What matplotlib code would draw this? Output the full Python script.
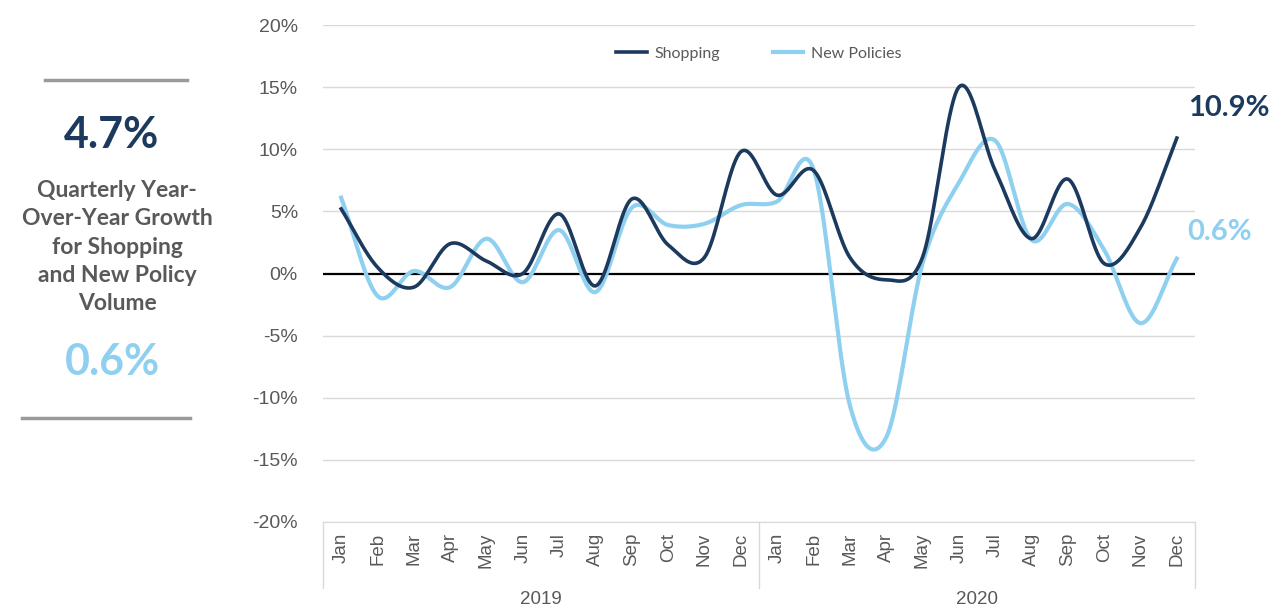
import matplotlib
matplotlib.use("Agg")
import matplotlib.pyplot as plt
import numpy as np

# data (monthly YoY growth, %)
months = ["Jan", "Feb", "Mar", "Apr", "May", "Jun", "Jul", "Aug", "Sep", "Oct", "Nov", "Dec"]
years = ["2019", "2020"]
shopping = [5.2, 0.5, -1.1, 2.4, 1.0, 0.0, 4.8, -1.0, 6.0, 2.3, 1.3, 9.8,
            6.3, 8.3, 1.3, -0.5, 1.3, 15.0, 8.3, 2.8, 7.6, 0.8, 3.7, 10.9]
new_policies = [6.1, -1.8, 0.2, -1.1, 2.8, -0.7, 3.5, -1.5, 5.3, 3.9, 4.0, 5.5,
                5.8, 8.4, -10.6, -13.2, 0.8, 7.3, 10.7, 2.7, 5.6, 1.9, -4.0, 1.2]
yticks = [-20, -15, -10, -5, 0, 5, 10, 15, 20]
shop_end_label = "10.9%"
pol_end_label = "0.6%"
quarter_shop = "4.7%"
quarter_pol = "0.6%"

DARK = "#1c3a5e"
LIGHT = "#8fd0f0"
GREY = "#595959"


def smooth(xs, ys, n=20):
    # catmull-rom through the points, like excel's smoothed line
    xs = np.asarray(xs, float)
    ys = np.asarray(ys, float)
    px = np.concatenate([[2 * xs[0] - xs[1]], xs, [2 * xs[-1] - xs[-2]]])
    py = np.concatenate([[2 * ys[0] - ys[1]], ys, [2 * ys[-1] - ys[-2]]])
    ox, oy = [], []
    t = np.linspace(0, 1, n, endpoint=False)
    for i in range(1, len(px) - 2):
        for p, out in ((px, ox), (py, oy)):
            p0, p1, p2, p3 = p[i - 1], p[i], p[i + 1], p[i + 2]
            c = 0.5 * ((2 * p1) + (-p0 + p2) * t + (2 * p0 - 5 * p1 + 4 * p2 - p3) * t ** 2
                       + (-p0 + 3 * p1 - 3 * p2 + p3) * t ** 3)
            out.extend(c)
    ox.append(xs[-1])
    oy.append(ys[-1])
    return np.array(ox), np.array(oy)


fig = plt.figure(figsize=(12.86, 6.09), dpi=100)
ax = fig.add_axes([323 / 1286, 1 - 522 / 609, (1195 - 323) / 1286, (522 - 25) / 609])

x = np.arange(len(shopping))
for yv in yticks:
    if yv != 0:
        ax.axhline(yv, color="#d9d9d9", lw=1, zorder=1)
ax.axhline(0, color="black", lw=1.6, zorder=2)

sx, sy = smooth(x, new_policies)
ax.plot(sx, sy, color=LIGHT, lw=3, zorder=3, label="New Policies")
sx, sy = smooth(x, shopping)
ax.plot(sx, sy, color=DARK, lw=2.6, zorder=4, label="Shopping")

ax.set_xlim(-0.5, len(x) - 0.5)
ax.set_ylim(-20, 20)
ax.set_yticks(yticks)
ax.set_yticklabels([f"{v}%" for v in yticks], fontsize=14, color=GREY, family="Liberation Sans")
ax.tick_params(axis="y", length=0, pad=18)
ax.set_xticks(x)
ax.set_xticklabels(months * 2, rotation=90, fontsize=13.5, color=GREY, family="Liberation Sans")
ax.tick_params(axis="x", length=0, pad=8)
for s in ["top", "right", "left"]:
    ax.spines[s].set_visible(False)
ax.spines["bottom"].set_color("#d9d9d9")

# category separators below the axis
for xv in [-0.5, 11.5, 23.5]:
    ax.plot([xv, xv], [-20, -25.3], color="#d9d9d9", lw=1, clip_on=False)
for i, yr in enumerate(years):
    ax.text(5.5 + 12 * i, -26.2, yr, ha="center", va="center", fontsize=13.5, color=GREY,
            family="Liberation Sans")

h, l = ax.get_legend_handles_labels()
ax.legend(h[::-1], l[::-1], loc="upper center", bbox_to_anchor=(0.5, 0.985), ncol=2, frameon=False,
          labelcolor=GREY, handlelength=1.9, handletextpad=0.5, columnspacing=3.3,
          prop={"family": "Lato", "size": 11.5})

ax.text(23.3, 13.3, shop_end_label, fontsize=21, fontweight="bold", color=DARK,
        family="Lato", va="center", ha="left", clip_on=False)
ax.text(23.3, 3.3, pol_end_label, fontsize=21, fontweight="bold", color=LIGHT,
        family="Lato", va="center", ha="left", clip_on=False)

# left side panel
fig.add_artist(plt.Line2D([45 / 1286, 187 / 1286], [1 - 80 / 609] * 2, color="#9a9a9a", lw=2.5))
fig.add_artist(plt.Line2D([22 / 1286, 190 / 1286], [1 - 418 / 609] * 2, color="#9a9a9a", lw=2.5))
fig.text(112 / 1286, 1 - 135 / 609, quarter_shop, fontsize=31, fontweight="bold", color=DARK,
         family="Lato", ha="center", va="center")
fig.text(117 / 1286, 1 - 247 / 609,
         "Quarterly Year-\nOver-Year Growth\nfor Shopping\nand New Policy\nVolume",
         fontsize=16.5, fontweight="bold", color=GREY, family="Lato", ha="center", va="center",
         linespacing=1.42)
fig.text(112 / 1286, 1 - 362 / 609, quarter_pol, fontsize=31, fontweight="bold", color=LIGHT,
         family="Lato", ha="center", va="center")

fig.savefig("out.png", dpi=100)
